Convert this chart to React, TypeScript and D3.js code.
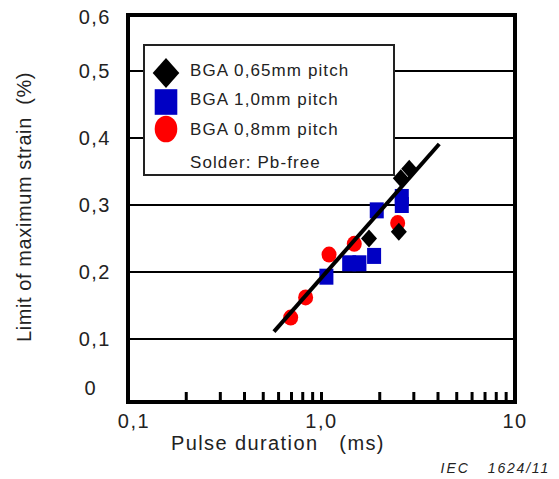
import React from "react";
import * as d3 from "d3";

// ---- data ----
const seriesNames = ["BGA 0,65mm pitch", "BGA 1,0mm pitch", "BGA 0,8mm pitch"];
const noteText = "Solder: Pb-free";

const diamondX = [1.76, 2.51, 2.57, 2.84];
const diamondY = [0.25, 0.26, 0.34, 0.354];

const squareX = [1.06, 1.39, 1.57, 1.87, 1.93, 2.6, 2.6];
const squareY = [0.193, 0.213, 0.213, 0.224, 0.292, 0.312, 0.3];

const circleX = [0.693, 0.828, 1.094, 1.477, 2.475];
const circleY = [0.132, 0.162, 0.226, 0.242, 0.273];

const fitX = [0.568, 4.06];
const fitY = [0.111, 0.391];

const yTickValues = [0, 0.1, 0.2, 0.3, 0.4, 0.5, 0.6];
const yTickLabels = ["0", "0,1", "0,2", "0,3", "0,4", "0,5", "0,6"];
const gridValues = [0.1, 0.2, 0.3, 0.4, 0.5];
const xMajorValues = [0.1, 1, 10];
const xMajorLabels = ["0,1", "1,0", "10"];
const xMinorValues = [0.2, 0.3, 0.4, 0.5, 0.6, 0.7, 0.8, 0.9, 1, 2, 3, 4, 5, 6, 7, 8, 9];

const xTitle = "Pulse duration   (ms)";
const yTitle = "Limit of maximum strain  (%)";

// ---- layout ----
const W = 559;
const H = 479;
const left = 128;
const right = 515;
const top = 15;
const bottom = 402;
const FONT = "'Liberation Sans', Arial, sans-serif";
const TEXT = "#222";
const BLUE = "#0000c4";
const RED = "#ff0000";

export default function App() {
  const x = d3.scaleLog().domain([0.1, 10]).range([left, right]);
  const y = d3.scaleLinear().domain([0, 0.5]).range([406, 71]);

  const diamondPath = (cx: number, cy: number, hw: number, hh: number) =>
    `M${cx},${cy - hh}L${cx + hw},${cy}L${cx},${cy + hh}L${cx - hw},${cy}Z`;

  const line = d3
    .line<[number, number]>()
    .x((d) => x(d[0]))
    .y((d) => y(d[1]));
  const fitPts: [number, number][] = fitX.map((v, i) => [v, fitY[i]]);

  const legX = 144;
  const legY = 45;
  const legW = 250;
  const legH = 130;
  const rowY = [73, 102, 129];
  const textBase = [76, 105, 135];

  return (
    <svg
      width={W}
      height={H}
      style={{ position: "absolute", left: 0, top: 0, background: "#fff" }}
      fontFamily={FONT}
    >
      <rect x={0} y={0} width={W} height={H} fill="#fff" />
      {/* gridlines */}
      {gridValues.map((v) => (
        <line key={v} x1={left} x2={right} y1={y(v)} y2={y(v)} stroke="#000" strokeWidth={2} />
      ))}
      {/* minor ticks on x */}
      {xMinorValues.map((v) => (
        <line key={v} x1={x(v)} x2={x(v)} y1={bottom} y2={bottom - 10} stroke="#000" strokeWidth={3} />
      ))}
      {/* frame */}
      <rect x={left} y={top} width={right - left} height={bottom - top} fill="none" stroke="#000" strokeWidth={4} />

      {/* y tick labels */}
      {yTickValues.map((v, i) => {
        const yy = Math.min(Math.max(y(v), top + 2), 388);
        const xEnd = yTickLabels[i] === "0" ? 97 : 111;
        return (
          <text
            key={v}
            x={xEnd}
            y={yy + 7}
            textAnchor="end"
            fontSize={20}
            letterSpacing={1.5}
            fill={TEXT}
          >
            {yTickLabels[i]}
          </text>
        );
      })}
      {/* x tick labels */}
      {xMajorValues.map((v, i) => (
        <text
          key={v}
          x={Math.max(x(v), 134)}
          y={428}
          textAnchor="middle"
          fontSize={20}
          letterSpacing={1.5}
          fill={TEXT}
        >
          {xMajorLabels[i]}
        </text>
      ))}

      {/* axis titles */}
      <text x={171} y={450} fontSize={20} letterSpacing={1.4} fill={TEXT} style={{ whiteSpace: "pre" }}>
        {xTitle}
      </text>
      <text
        transform={`translate(30.5,207) rotate(-90)`}
        textAnchor="middle"
        fontSize={20}
        letterSpacing={0.6}
        fill={TEXT}
        style={{ whiteSpace: "pre" }}
      >
        {yTitle}
      </text>

      {/* data */}
      {circleX.map((v, i) => (
        <ellipse key={"c" + i} cx={x(v)} cy={y(circleY[i])} rx={7.5} ry={8} fill={RED} />
      ))}
      {squareX.map((v, i) => (
        <rect key={"s" + i} x={x(v) - 7} y={y(squareY[i]) - 8} width={14} height={16} fill={BLUE} />
      ))}
      {diamondX.map((v, i) => (
        <path key={"d" + i} d={diamondPath(x(v), y(diamondY[i]), 8, 9)} fill="#000" />
      ))}
      <path d={line(fitPts) || ""} stroke="#000" strokeWidth={4} fill="none" />

      {/* legend */}
      <rect x={legX} y={legY} width={legW} height={legH} fill="#fff" stroke={TEXT} strokeWidth={2} />
      <path d={diamondPath(166, rowY[0], 13.3, 15)} fill="#000" />
      <rect x={154.7} y={rowY[1] - 12.8} width={22.6} height={25.6} fill={BLUE} />
      <ellipse cx={166} cy={rowY[2]} rx={11.3} ry={13.3} fill={RED} />
      {seriesNames.map((n, i) => (
        <text key={n} x={190} y={textBase[i]} fontSize={17} letterSpacing={1.1} fill={TEXT}>
          {n}
        </text>
      ))}
      <text x={190} y={168} fontSize={17} letterSpacing={1.1} fill={TEXT}>
        {noteText}
      </text>

      {/* source */}
      <text x={440.5} y={473} fontSize={14} fontStyle="italic" letterSpacing={2} fill={TEXT}>
        IEC
      </text>
      <text x={550} y={473} textAnchor="end" fontSize={14} fontStyle="italic" letterSpacing={1.8} fill={TEXT}>
        1624/11
      </text>
    </svg>
  );
}
